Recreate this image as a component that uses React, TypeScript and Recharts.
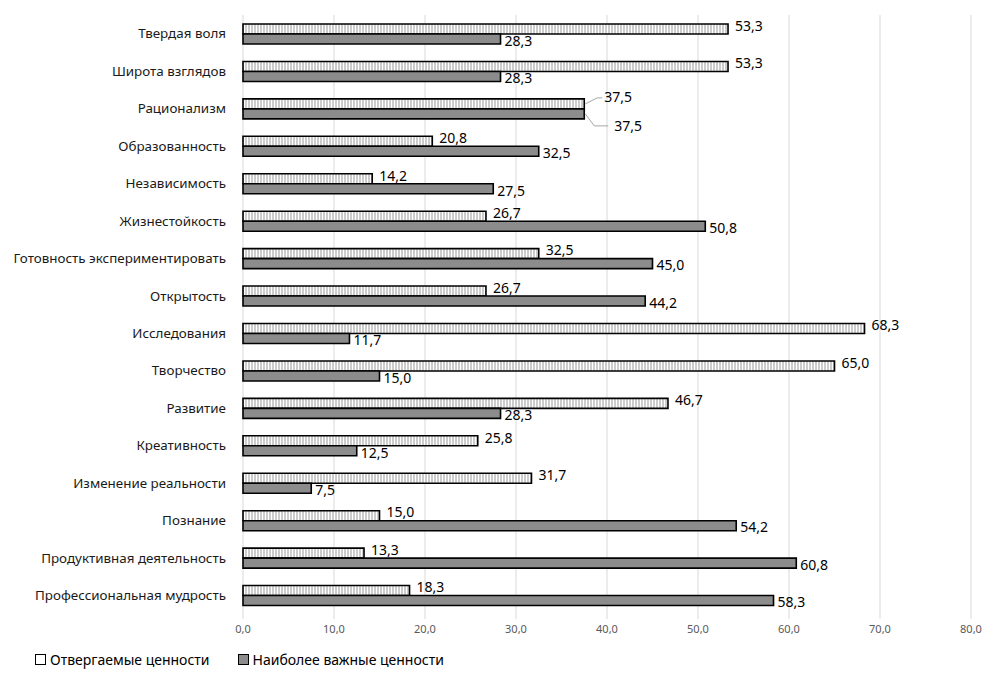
import { Bar, BarChart, CartesianGrid, XAxis, YAxis } from "recharts";

const categories = [
  "Твердая воля",
  "Широта взглядов",
  "Рационализм",
  "Образованность",
  "Независимость",
  "Жизнестойкость",
  "Готовность экспериментировать",
  "Открытость",
  "Исследования",
  "Творчество",
  "Развитие",
  "Креативность",
  "Изменение реальности",
  "Познание",
  "Продуктивная деятельность",
  "Профессиональная мудрость",
];

const rejected = [53.3, 53.3, 37.5, 20.8, 14.2, 26.7, 32.5, 26.7, 68.3, 65.0, 46.7, 25.8, 31.7, 15.0, 13.3, 18.3];
const important = [28.3, 28.3, 37.5, 32.5, 27.5, 50.8, 45.0, 44.2, 11.7, 15.0, 28.3, 12.5, 7.5, 54.2, 60.8, 58.3];

const xTicks = [0, 10, 20, 30, 40, 50, 60, 70, 80];

const seriesNames = ["Отвергаемые ценности", "Наиболее важные ценности"];

const data = categories.map((name, i) => ({ name, rejected: rejected[i], important: important[i] }));

const FONT = "'Noto Sans', 'Open Sans', sans-serif";
const fmt = (v: number) => v.toFixed(1).replace(".", ",");

function RejectedLabel(props: any) {
  const { x, y, width, height, value, index } = props;
  const ex = x + width;
  const cy = y + height / 2;
  if (rejected[index] === important[index]) {
    return (
      <g>
        <path d={`M${ex + 1},${cy} L${ex + 13},${cy - 6} L${ex + 18},${cy - 6}`} stroke="#a6a6a6" fill="none" />
        <text x={ex + 20} y={cy - 6} dominantBaseline="middle" fontSize={14} fontFamily={FONT} fill="#000">
          {fmt(value)}
        </text>
      </g>
    );
  }
  return (
    <text x={ex + 7} y={cy - 2} dominantBaseline="middle" fontSize={14} fontFamily={FONT} fill="#000">
      {fmt(value)}
    </text>
  );
}

function ImportantLabel(props: any) {
  const { x, y, width, height, value, index } = props;
  const ex = x + width;
  const cy = y + height / 2;
  if (rejected[index] === important[index]) {
    return (
      <g>
        <path d={`M${ex + 1},${cy} L${ex + 10},${cy + 12} L${ex + 24},${cy + 12}`} stroke="#a6a6a6" fill="none" />
        <text x={ex + 30} y={cy + 13} dominantBaseline="middle" fontSize={14} fontFamily={FONT} fill="#000">
          {fmt(value)}
        </text>
      </g>
    );
  }
  return (
    <text x={ex + 4} y={cy + 3} dominantBaseline="middle" fontSize={14} fontFamily={FONT} fill="#000">
      {fmt(value)}
    </text>
  );
}

export default function App() {
  return (
    <div style={{ position: "relative", width: 995, height: 680, fontFamily: FONT }}>
      <BarChart
        width={995}
        height={680}
        data={data}
        layout="vertical"
        barGap={0}
        margin={{ top: 7, right: 32, left: 0, bottom: 44 }}
      >
        <defs>
          <pattern id="vstripes" width="3" height="4" patternUnits="userSpaceOnUse">
            <rect width="3" height="4" fill="#ffffff" />
            <line x1="1" y1="0" x2="1" y2="4" stroke="#9a9a9a" strokeWidth={1} />
          </pattern>
        </defs>
        <CartesianGrid horizontal={false} stroke="#d9d9d9" />
        <XAxis
          type="number"
          domain={[0, 80]}
          ticks={xTicks}
          tickFormatter={fmt}
          axisLine={false}
          tickLine={{ stroke: "#d9d9d9" }}
          tickSize={5}
          tickMargin={6}
          height={30}
          tick={{ fontSize: 11, fill: "#595959", fontFamily: FONT }}
        />
        <YAxis
          type="category"
          dataKey="name"
          width={235}
          axisLine={false}
          tickLine={false}
          tickSize={6}
          tickMargin={11}
          interval={0}
          tick={{ fontSize: 13.4, fill: "#1a1a1a", fontFamily: FONT }}
        />
        <Bar
          dataKey="rejected"
          name={seriesNames[0]}
          fill="url(#vstripes)"
          stroke="#000"
          strokeWidth={1.6}
          barSize={10}
          isAnimationActive={false}
          label={<RejectedLabel />}
        />
        <Bar
          dataKey="important"
          name={seriesNames[1]}
          fill="#8c8c8c"
          stroke="#000"
          strokeWidth={1.6}
          barSize={10}
          isAnimationActive={false}
          label={<ImportantLabel />}
        />
      </BarChart>
      <div
        style={{
          position: "absolute",
          left: 27,
          top: 642,
          display: "flex",
          alignItems: "center",
          fontSize: 14,
          color: "#000",
        }}
      >
        <span style={{ width: 9, height: 9, border: "1.5px solid #000", background: "#fff", marginRight: 4 }} />
        <span style={{ marginRight: 28 }}>{seriesNames[0]}</span>
        <span style={{ width: 9, height: 9, border: "1.5px solid #000", background: "#8c8c8c", marginRight: 4 }} />
        <span>{seriesNames[1]}</span>
      </div>
    </div>
  );
}
